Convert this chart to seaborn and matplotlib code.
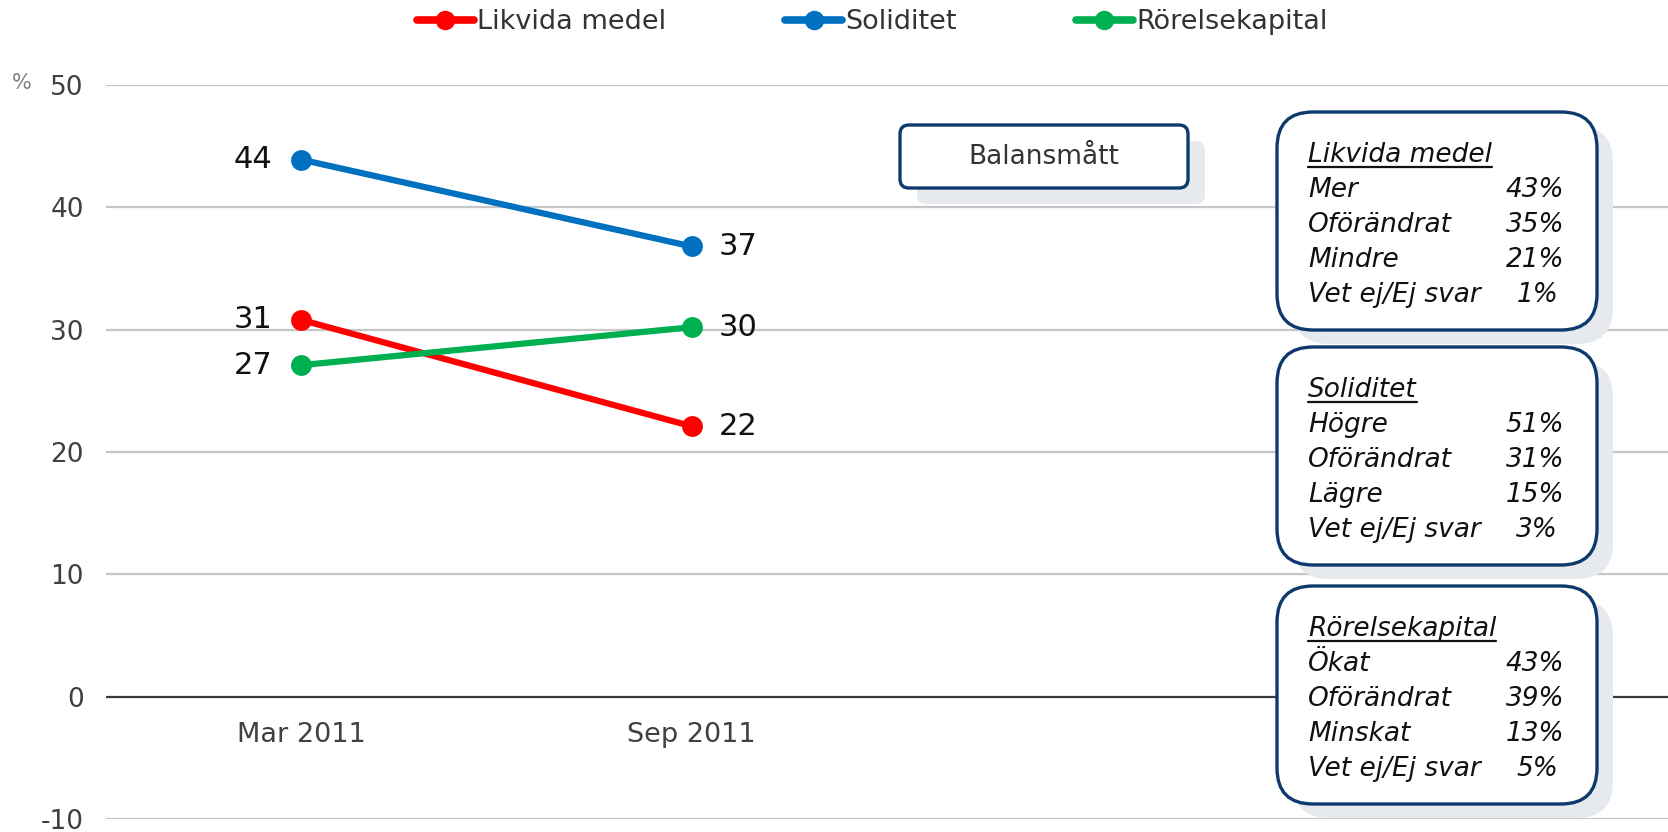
import numpy as np
import pandas as pd
import matplotlib
matplotlib.use("Agg")
import matplotlib.pyplot as plt
import seaborn as sns
from matplotlib.patches import FancyBboxPatch
from matplotlib.lines import Line2D

# ---------------- data ----------------
categories = ["Mar 2011", "Sep 2011", "", ""]
periods = ["Mar 2011", "Sep 2011"]
series = ["Likvida medel", "Soliditet", "Rörelsekapital"]
likvida = [30.8, 22.1]
soliditet = [43.9, 36.8]
rorelse = [27.1, 30.2]
likvida_lbl = ["31", "22"]
soliditet_lbl = ["44", "37"]
rorelse_lbl = ["27", "30"]
colors = ["#ff0000", "#0070c0", "#00b050"]
yticks = [-10, 0, 10, 20, 30, 40, 50]

box_titles = ["Likvida medel", "Soliditet", "Rörelsekapital"]
box1_labels = ["Mer", "Oförändrat", "Mindre", "Vet ej/Ej svar"]
box1_values = ["43%", "35%", "21%", "1%"]
box2_labels = ["Högre", "Oförändrat", "Lägre", "Vet ej/Ej svar"]
box2_values = ["51%", "31%", "15%", "3%"]
box3_labels = ["Ökat", "Oförändrat", "Minskat", "Vet ej/Ej svar"]
box3_values = ["43%", "39%", "13%", "5%"]
note_text = "Balansmått"

# ---------------- frame ----------------
W, H = 1668, 832
DPI = 100
sns.set_theme(style="white")
plt.rcParams["font.family"] = ["DejaVu Sans"]
plt.rcParams["axes.unicode_minus"] = False
fig = plt.figure(figsize=(W / DPI, H / DPI), dpi=DPI)
ax = fig.add_axes([106 / W, (H - 819) / H, (W - 106) / W, (819 - 85) / H])

rows = []
for name, vals in zip(series, [likvida, soliditet, rorelse]):
    for p, v in zip(periods, vals):
        rows.append({"series": name, "pos": categories.index(p), "value": v})
df = pd.DataFrame(rows)

sns.lineplot(data=df, x="pos", y="value", hue="series", hue_order=series,
             palette=colors, marker="o", markersize=15, markeredgewidth=0,
             linewidth=4.5, legend=False, ax=ax, zorder=5, sort=False)

ax.set_xlim(-0.5, len(categories) - 0.5)
ax.set_ylim(-10, 50)
ax.set_yticks(yticks)
ax.set_xticks([0, 1])
ax.set_xticklabels(periods)
ax.spines["bottom"].set_position(("data", 0))
for s in ax.spines.values():
    s.set_visible(False)
ax.tick_params(axis="both", length=0, colors="#404040", labelsize=19)
ax.tick_params(axis="y", pad=16)
ax.tick_params(axis="x", pad=18, labelsize=19.5)
ax.set_xlabel("")
ax.set_ylabel("")
for yv in yticks:
    if yv == 0:
        ax.axhline(yv, color="#3a3a3a", lw=1.6, zorder=1)
    else:
        ax.axhline(yv, color="#c6c6c6", lw=1.6, zorder=1)

# data labels
for vals, lbls in zip([likvida, soliditet, rorelse], [likvida_lbl, soliditet_lbl, rorelse_lbl]):
    for i, (p, v, l) in enumerate(zip(periods, vals, lbls)):
        x = categories.index(p)
        if i == 0:
            ax.annotate(l, (x, v), xytext=(-29, 0), textcoords="offset pixels",
                        ha="right", va="center", fontsize=22, color="#111111")
        else:
            ax.annotate(l, (x, v), xytext=(27, 0), textcoords="offset pixels",
                        ha="left", va="center", fontsize=22, color="#111111")

fig.text(22 / W, 1 - 83 / H, "%", fontsize=15, color="#808080", ha="center", va="center")

# legend
handles = [Line2D([0], [0], color=c, lw=5.5, marker="o", markersize=14, markeredgewidth=0)
           for c in colors]
leg = fig.legend(handles, series, loc="center", bbox_to_anchor=(872 / W, 1 - 22 / H),
                 ncol=3, frameon=False, fontsize=19.5, handlelength=2.1,
                 handletextpad=0.12, columnspacing=4.4)
for t in leg.get_texts():
    t.set_color("#333333")

# ---------------- boxes ----------------
tr = fig.dpi_scale_trans
navy = "#0d3a6c"
shadow = "#e6e9ed"


def px_box(x0, y0, x1, y1, r, sdx, sdy):
    fig.patches.append(FancyBboxPatch(((x0 + sdx) / DPI, (H - y1 - sdy) / DPI),
                                      (x1 - x0) / DPI, (y1 - y0) / DPI,
                                      boxstyle=f"round,pad=0,rounding_size={r / DPI}",
                                      transform=tr, facecolor=shadow, edgecolor="none",
                                      zorder=1, figure=fig))
    fig.patches.append(FancyBboxPatch((x0 / DPI, (H - y1) / DPI),
                                      (x1 - x0) / DPI, (y1 - y0) / DPI,
                                      boxstyle=f"round,pad=0,rounding_size={r / DPI}",
                                      transform=tr, facecolor="white", edgecolor=navy,
                                      lw=2.4, zorder=2, figure=fig))


px_box(900, 125, 1188, 188, 9, 17, 16)
fig.text((900 + 1188) / 2 / DPI, (H - 157) / DPI, note_text, transform=tr, ha="center",
         va="center", fontsize=19, color="#333333", zorder=3)

box_tops = [112, 347, 586]
title_texts = []
for top, title, labs, vals in zip(box_tops, box_titles,
                                  [box1_labels, box2_labels, box3_labels],
                                  [box1_values, box2_values, box3_values]):
    px_box(1277, top, 1597, top + 218, 36, 16, 14)
    tb = top + 50
    t = fig.text(1308 / DPI, (H - tb) / DPI, title, transform=tr, ha="left",
                 va="baseline", fontsize=19, style="italic", color="#111111", zorder=3)
    title_texts.append((t, tb))
    for k, (lb, vv) in enumerate(zip(labs, vals)):
        yb = tb + 35 * (k + 1)
        fig.text(1308 / DPI, (H - yb) / DPI, lb, transform=tr, ha="left", va="baseline",
                 fontsize=19, style="italic", color="#111111", zorder=3)
        xr = 1564 if k < 3 else 1558
        fig.text(xr / DPI, (H - yb) / DPI, vv, transform=tr, ha="right", va="baseline",
                 fontsize=19, style="italic", color="#111111", zorder=3)

fig.canvas.draw()
renderer = fig.canvas.get_renderer()
for t, tb in title_texts:
    bb = t.get_window_extent(renderer)
    yline = (H - tb - 5) / DPI
    fig.lines.append(Line2D([bb.x0 / DPI, bb.x1 / DPI], [yline, yline], transform=tr,
                            color="#111111", lw=1.6, zorder=3, figure=fig))

fig.savefig("out.png", dpi=DPI)
